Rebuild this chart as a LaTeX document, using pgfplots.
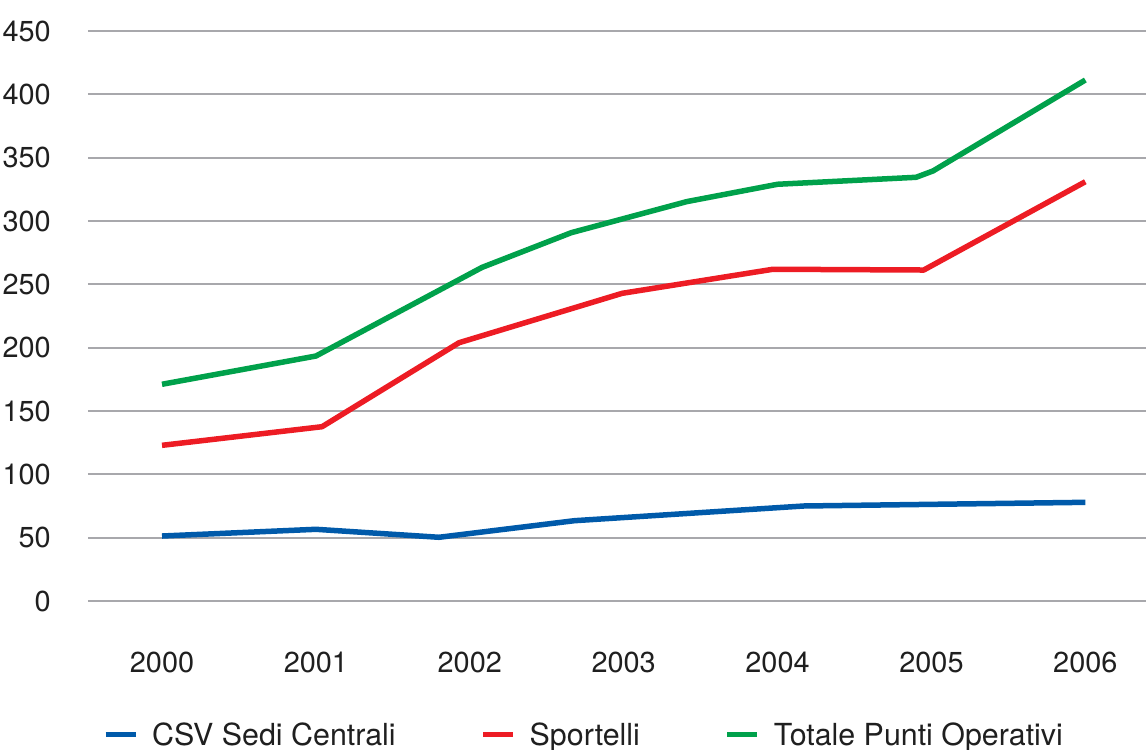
\documentclass[border=0pt]{standalone}
\usepackage{fontspec}
\setmainfont{TeX Gyre Heros}
\usepackage{pgfplots}
\pgfplotsset{compat=1.18}
\definecolor{csvblue}{RGB}{0,90,170}
\definecolor{spred}{RGB}{237,28,36}
\definecolor{totgreen}{RGB}{0,161,75}
\definecolor{gridgray}{RGB}{168,168,172}
\begin{document}
\begin{tikzpicture}
\useasboundingbox (-88bp,-149bp) rectangle (1058bp,601bp);
\begin{axis}[
  at={(0,0)}, anchor=south west,
  scale only axis, width=1058bp, height=570bp,
  xmin=1999.519, xmax=2006.394, ymin=0, ymax=450,
  xtick={2000,2001,2002,2003,2004,2005,2006},
  xticklabels={2000,2001,2002,2003,2004,2005,2006},
  ytick={0,50,100,150,200,250,300,350,400,450},
  major tick length=0pt,
  axis line style={draw=none},
  ymajorgrids, grid style={gridgray, line width=2.2bp},
  /pgf/number format/assume math mode=true,
  /pgf/number format/1000 sep={},
  tick label style={font=\fontsize{29}{30}\selectfont, text=black!88},
  xticklabel style={anchor=center, yshift=-61bp},
  yticklabel style={anchor=east, inner sep=0pt, xshift=-37bp},
  legend columns=3,
  legend style={draw=none, fill=none, at={(axis description cs:0.0142,-0.235)}, anchor=west,
    font=\fontsize{30.5}{31}\selectfont, text=black!88,
    nodes={inner xsep=0pt},
    /tikz/every odd column/.append style={column sep=14bp},
    /tikz/every even column/.append style={column sep=85bp},
    inner xsep=0pt, inner ysep=0pt},
  legend image code/.code={\draw[#1, line width=5bp] (0bp,0bp) -- (30bp,0bp);},
  line join=round,
]
\addplot[csvblue, line width=5.5bp] coordinates {
 (2000,51.3) (2001.0,56.6) (2001.80,50.3) (2002.68,63.4) (2004.17,75) (2006,77.9)};
\addlegendentry{CSV Sedi Centrali}
\addplot[spred, line width=5.5bp] coordinates {
 (2000,122.9) (2001.04,137.6) (2001.93,203.9) (2002.99,242.9) (2003.97,261.9) (2004.95,261.3) (2006,331)};
\addlegendentry{Sportelli}
\addplot[totgreen, line width=5.5bp] coordinates {
 (2000,171.1) (2001.0,193.4) (2002.08,263.4) (2002.66,290.8) (2003.41,315.3) (2004.0,329) (2004.90,334.5) (2005.01,339.5) (2006,411.3)};
\addlegendentry{Totale Punti Operativi}
\end{axis}
\end{tikzpicture}
\end{document}
